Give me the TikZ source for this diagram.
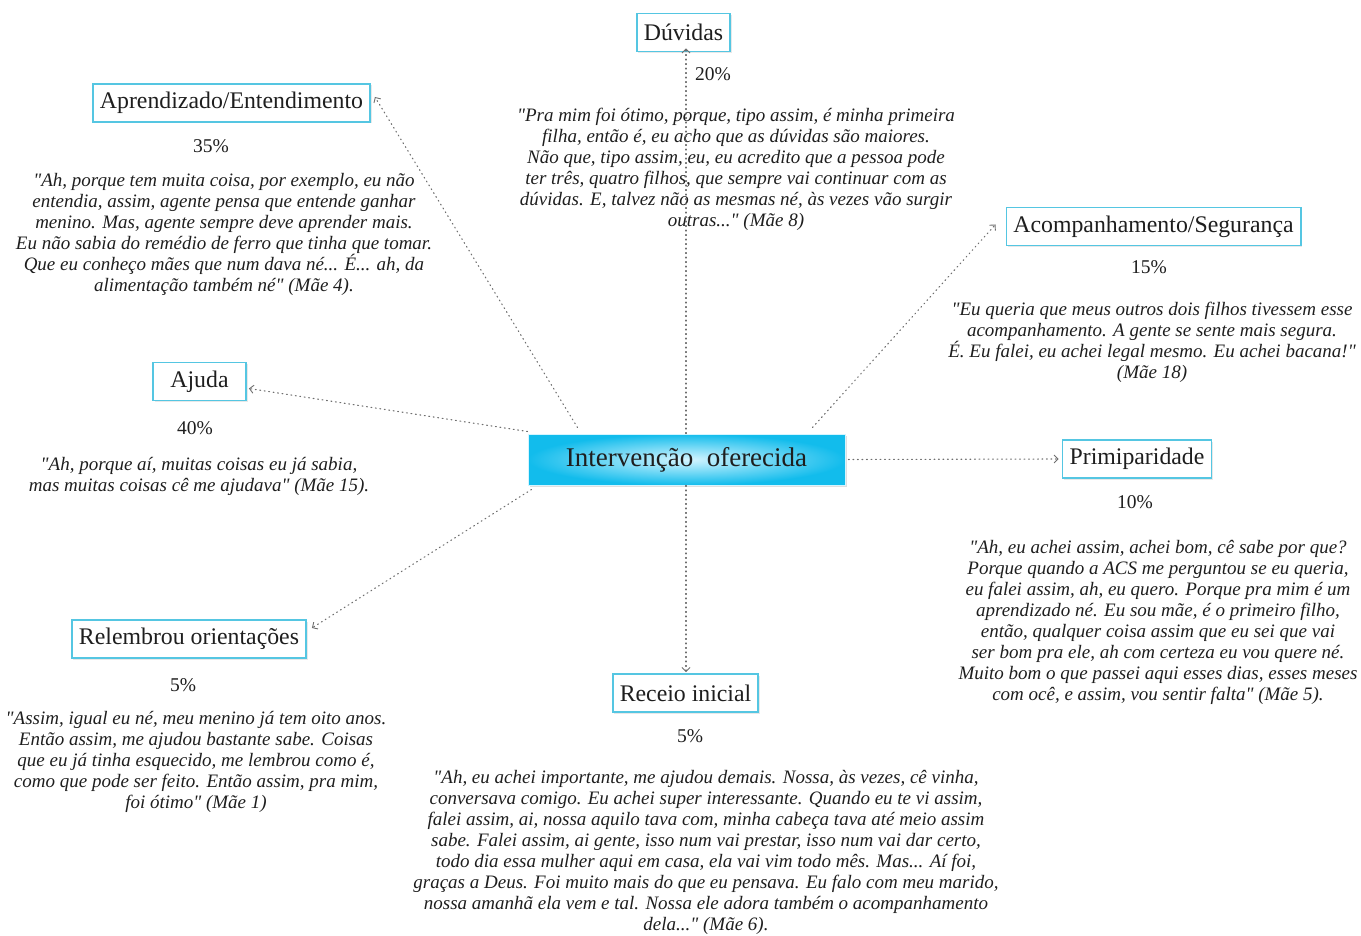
\documentclass[tikz,border=0pt]{standalone}
\usepackage{fontspec}
\setmainfont{Liberation Serif}[Ligatures=TeXOff]
\usetikzlibrary{arrows.meta,shadows,calc}
\definecolor{boxcyan}{RGB}{85,198,226}
\definecolor{deepcyan}{RGB}{18,188,236}
\definecolor{lightcyan}{RGB}{212,245,255}
\definecolor{txt}{RGB}{30,30,30}
\definecolor{conn}{RGB}{110,110,110}
\newcommand\dq{\char34\relax}
\tikzset{
  catbox/.style={draw=boxcyan, line width=1.8pt, fill=white, text=txt,
    font=\fontsize{23.8}{26}\selectfont, inner xsep=7pt, minimum height=38pt, minimum width=93pt,
    drop shadow={opacity=0.18, shadow xshift=1.5pt, shadow yshift=-1.5pt}},
  centralbox/.style={draw=lightcyan, line width=1pt, inner color=lightcyan, outer color=deepcyan,
    text=txt, font=\fontsize{27}{30}\selectfont, minimum width=317pt, minimum height=51pt,
    drop shadow={opacity=0.25, shadow xshift=2pt, shadow yshift=-2pt}},
  pct/.style={text=txt, font=\fontsize{19.5}{22}\selectfont, inner sep=0pt},
  quote/.style={text=txt, font=\fontsize{19}{21}\selectfont\itshape, align=center, inner sep=0pt},
  link/.style={draw=conn, line width=1.1pt, dash pattern=on 0.9pt off 3.6pt, line cap=round,
    -{Straight Barb[length=4pt,width=8pt,line width=0.9pt,line cap=butt]}}
}
\begin{document}
\begin{tikzpicture}[x=1pt,y=-1pt]
\useasboundingbox (0,0) rectangle (1361,936);

\node[centralbox] (c) at (686.5,459.5) {Intervenção\ \ oferecida};

\node[catbox] (d) at (683.5,32.5) {Dúvidas};
\node[catbox] (a) at (231.5,103) {Aprendizado/Entendimento};
\node[catbox] (g) at (1153.5,226.5) {Acompanhamento/Segurança};
\node[catbox] (aj) at (199.5,381.5) {Ajuda};
\node[catbox] (p) at (1137,459) {Primiparidade};
\node[catbox] (r) at (189,639) {Relembrou orientações};
\node[catbox] (re) at (685.5,693) {Receio inicial};

\node[pct] (pd) at (713,74) {20\%};
\node[pct] (pa) at (211,146) {35\%};
\node[pct] (pg) at (1149,267) {15\%};
\node[pct] (paj) at (195,428) {40\%};
\node[pct] (pp) at (1135,502) {10\%};
\node[pct] (pr) at (183,685) {5\%};
\node[pct] (pre) at (690,736) {5\%};

\node[quote] (qd) at (736,169) {\dq Pra mim foi ótimo, porque, tipo assim, é minha primeira\\
filha, então é, eu acho que as dúvidas são maiores.\\
Não que, tipo assim, eu, eu acredito que a pessoa pode\\
ter três, quatro filhos, que sempre vai continuar com as\\
dúvidas. E, talvez não as mesmas né, às vezes vão surgir\\
outras...\dq{} (Mãe 8)};

\node[quote] (qa) at (224,234.5) {\dq Ah, porque tem muita coisa, por exemplo, eu não\\
entendia, assim, agente pensa que entende ganhar\\
menino. Mas, agente sempre deve aprender mais.\\
Eu não sabia do remédio de ferro que tinha que tomar.\\
Que eu conheço mães que num dava né... É... ah, da\\
alimentação também né\dq{} (Mãe 4).};

\node[quote] (qg) at (1152,342.5) {\dq Eu queria que meus outros dois filhos tivessem esse\\
acompanhamento. A gente se sente mais segura.\\
É. Eu falei, eu achei legal mesmo. Eu achei bacana!\dq\\
(Mãe 18)};

\node[quote] (qaj) at (199,476.5) {\dq Ah, porque aí, muitas coisas eu já sabia,\\
mas muitas coisas cê me ajudava\dq{} (Mãe 15).};

\node[quote] (qp) at (1158,622.5) {\dq Ah, eu achei assim, achei bom, cê sabe por que?\\
Porque quando a ACS me perguntou se eu queria,\\
eu falei assim, ah, eu quero. Porque pra mim é um\\
aprendizado né. Eu sou mãe, é o primeiro filho,\\
então, qualquer coisa assim que eu sei que vai\\
ser bom pra ele, ah com certeza eu vou quere né.\\
Muito bom o que passei aqui esses dias, esses meses\\
com ocê, e assim, vou sentir falta\dq{} (Mãe 5).};

\node[quote] (qr) at (196,761.5) {\dq Assim, igual eu né, meu menino já tem oito anos.\\
Então assim, me ajudou bastante sabe. Coisas\\
que eu já tinha esquecido, me lembrou como é,\\
como que pode ser feito. Então assim, pra mim,\\
foi ótimo\dq{} (Mãe 1)};

\node[quote] (qre) at (706,852.5) {\dq Ah, eu achei importante, me ajudou demais. Nossa, às vezes, cê vinha,\\
conversava comigo. Eu achei super interessante. Quando eu te vi assim,\\
falei assim, ai, nossa aquilo tava com, minha cabeça tava até meio assim\\
sabe. Falei assim, ai gente, isso num vai prestar, isso num vai dar certo,\\
todo dia essa mulher aqui em casa, ela vai vim todo mês. Mas... Aí foi,\\
graças a Deus. Foi muito mais do que eu pensava. Eu falo com meu marido,\\
nossa amanhã ela vem e tal. Nossa ele adora também o acompanhamento\\
dela...\dq{} (Mãe 6).};

\draw[link] ([xshift=-0.5pt]c.north) -- ([shift={(2.5,-4)}]d.south);
\draw[link] ([shift={(50,-6)}]c.north west) -- ([shift={(4,-6)}]a.east);
\draw[link] ([shift={(-33,-6)}]c.north east) -- ([shift={(-10,-2)}]g.west);
\draw[link] ([shift={(0,-2)}]c.north west) -- ([shift={(2,7)}]aj.east);
\draw[link] ([xshift=3pt]c.east) -- ([xshift=-3pt]p.west);
\draw[link] ([shift={(4,4)}]c.south west) -- ([shift={(5,-11)}]r.east);
\draw[link] ([xshift=-0.5pt]c.south) -- ([shift={(0.5,-1)}]re.north);
\end{tikzpicture}
\end{document}
